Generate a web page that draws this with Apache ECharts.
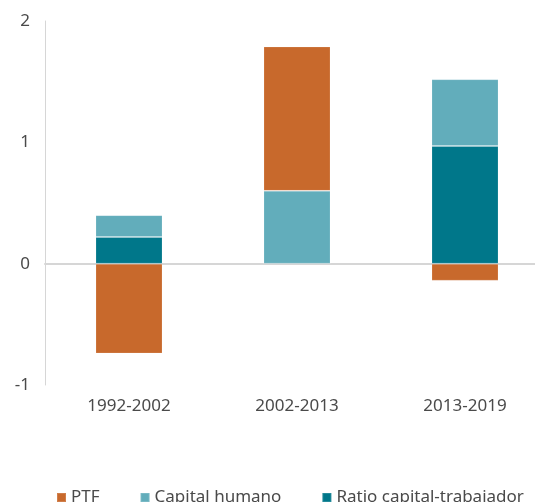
<!DOCTYPE html>
<html>
<head>
<meta charset="utf-8">
<script src="https://cdn.jsdelivr.net/npm/echarts@6/dist/echarts.min.js"></script>
<style>
  html, body { margin: 0; padding: 0; background: #fff; }
  #chart { width: 535px; height: 502px; }
</style>
</head>
<body>
<div id="chart"></div>
<script>
const periods = ['1992-2002', '2002-2013', '2013-2019'];
const ptf = [-0.74, 1.19, -0.14];
const capitalHumano = [0.18, 0.60, 0.55];
const ratioCapital = [0.22, 0, 0.97];
const yTicks = [-1, 0, 1, 2];

const font = 'Noto Sans';
const tc = '#4a4a4a';
const gc = '#d6d6d6';

const chart = echarts.init(document.getElementById('chart'), null, { renderer: 'canvas' });

const barStyle = (color) => ({ color, borderColor: 'rgba(255,255,255,0.15)', borderWidth: 1 });

chart.setOption({
  backgroundColor: '#fff',
  animation: false,
  grid: { top: 21, left: 45, width: 504, height: 364, outerBoundsMode: 'none', containLabel: false },
  legend: {
    data: ['PTF', 'Capital humano', 'Ratio capital-trabajador'],
    left: 51, top: 484, itemGap: 40, itemWidth: 9, itemHeight: 9, icon: 'rect',
    textStyle: { color: tc, fontSize: 17, fontFamily: font }
  },
  xAxis: [
    { type: 'category', data: periods, position: 'bottom',
      axisLine: { show: false, onZero: false }, axisTick: { show: false },
      axisLabel: { color: tc, fontSize: 17, fontFamily: font, margin: 13 } },
    { type: 'category', data: periods, position: 'bottom',
      axisLine: { onZero: true, lineStyle: { color: gc, width: 2 } },
      axisTick: { show: false }, axisLabel: { show: false } }
  ],
  yAxis: {
    type: 'value', min: yTicks[0], max: yTicks[yTicks.length - 1], interval: 1,
    axisLine: { show: true, lineStyle: { color: gc, width: 1 } },
    axisTick: { show: false }, splitLine: { show: false },
    axisLabel: { color: tc, fontSize: 17, fontFamily: font, margin: 15 }
  },
  series: [
    { name: 'Ratio capital-trabajador', type: 'bar', stack: 'total', data: ratioCapital,
      barWidth: 67, itemStyle: barStyle('#00778A') },
    { name: 'Capital humano', type: 'bar', stack: 'total', data: capitalHumano,
      barWidth: 67, itemStyle: barStyle('#62ADBB') },
    { name: 'PTF', type: 'bar', stack: 'total', data: ptf,
      barWidth: 67, itemStyle: barStyle('#C8692C') }
  ]
});
</script>
</body>
</html>
